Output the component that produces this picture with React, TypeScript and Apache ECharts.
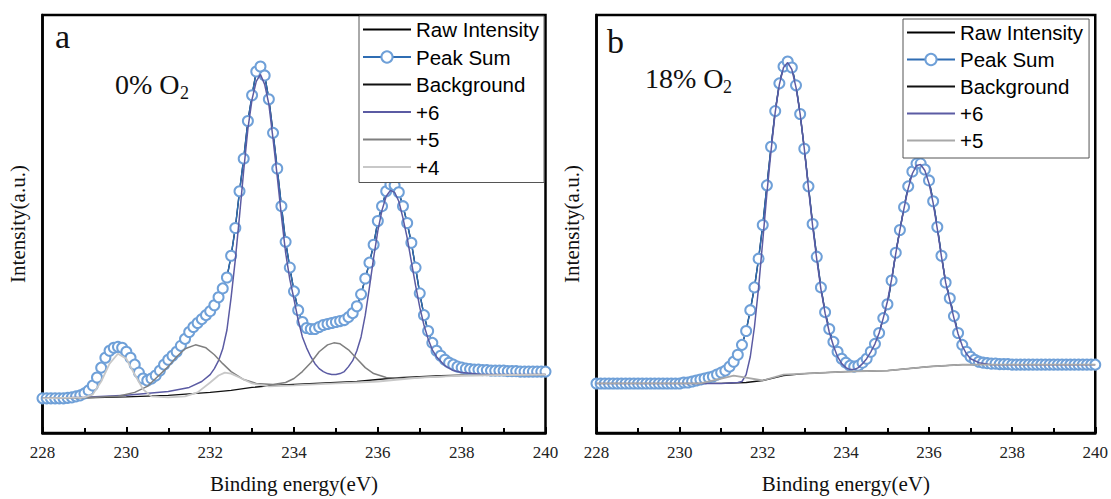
import React, { useEffect, useRef } from "react";
import * as echarts from "echarts";

// ---------- data ----------
const energyStart = 228;
const energyStep = 0.1;

// Panel a (0% O2) — peak sum / raw intensity sampled every 0.1 eV from 228 to 240
const peakSumA = [
  38, 38, 38, 38, 38, 38, 38.5, 39, 40, 41,
  43, 46, 51, 59, 69, 79, 86, 89, 90, 89,
  85, 79, 72, 64, 58, 56, 58, 61, 66, 72,
  77, 81, 85, 91, 98, 105, 110, 114, 118, 122,
  126, 132, 140, 149, 160, 182, 210, 247, 280, 318,
  344, 368, 373, 364, 340, 306, 270, 232, 196, 170,
  146, 127, 115, 109, 108, 108, 110, 112, 113, 114,
  115, 116, 117, 120, 124, 131, 143, 159, 175, 193,
  217, 232, 247, 254, 253, 246, 232, 215, 195, 170,
  144, 122, 106, 94, 86, 81, 77, 74, 72, 70,
  69, 68, 67.5, 67, 67, 66.5, 66.5, 66, 66, 66,
  66, 65.5, 65.5, 65.5, 65, 65, 65, 65, 65, 65,
  65,
];
const rawA = peakSumA;

const backgroundA = [
  [228, 38], [229, 38.5], [230, 39.5], [231, 41], [232, 44], [232.5, 46], [233, 49],
  [233.5, 51], [234, 52], [234.5, 53], [235, 54], [235.5, 55], [236, 57], [236.5, 59],
  [237, 60], [237.5, 61], [238, 61.5], [240, 62],
];
const plus6A = [
  [228, 38], [229, 39], [230, 41], [231, 45], [231.5, 49], [231.8, 55], [232.0, 62],
  [232.1, 68], [232.2, 76], [232.3, 88], [232.4, 107], [232.5, 140], [232.6, 178],
  [232.7, 222], [232.8, 268], [232.9, 310], [233.0, 340], [233.1, 358], [233.2, 365],
  [233.3, 355], [233.4, 335], [233.5, 300], [233.6, 262], [233.7, 222], [233.8, 185],
  [233.9, 158], [234.0, 138], [234.1, 117], [234.2, 100], [234.3, 89], [234.4, 80],
  [234.5, 73], [234.6, 68], [234.7, 65], [234.8, 63], [234.9, 62], [235.0, 62],
  [235.1, 63], [235.2, 65], [235.3, 70], [235.4, 76], [235.5, 86], [235.6, 100],
  [235.7, 122], [235.8, 150], [235.9, 180], [236.0, 207], [236.1, 228], [236.2, 242],
  [236.3, 248], [236.4, 246], [236.5, 237], [236.6, 220], [236.7, 200], [236.8, 176],
  [236.9, 152], [237.0, 130], [237.1, 112], [237.2, 98], [237.3, 87], [237.4, 80],
  [237.6, 71], [237.8, 66], [238.0, 64], [238.5, 62], [240, 62],
];
const plus5A = [
  [228, 38], [229, 38.5], [229.8, 40], [230.2, 44], [230.5, 50], [230.8, 62], [231.0, 70],
  [231.2, 80], [231.4, 88], [231.65, 92], [231.9, 89], [232.1, 82], [232.3, 73],
  [232.5, 65], [232.8, 57], [233.1, 53], [233.5, 52], [233.8, 54], [234.0, 58],
  [234.2, 65], [234.4, 74], [234.6, 85], [234.8, 92], [234.95, 94], [235.1, 93],
  [235.3, 87], [235.5, 78], [235.7, 69], [235.9, 63], [236.2, 59], [236.6, 58],
  [237, 59], [238, 61], [240, 62],
];
const plus4A = [
  [228, 38], [229, 39], [229.2, 42], [229.4, 55], [229.6, 73], [229.8, 83], [230.0, 78],
  [230.2, 62], [230.4, 47], [230.6, 40], [231.0, 39], [231.4, 40], [231.7, 44],
  [232.0, 54], [232.2, 61], [232.35, 64], [232.5, 63], [232.7, 59], [233.0, 53],
  [233.4, 50], [234, 51], [234.5, 52], [235, 53], [235.5, 54], [236, 55], [236.5, 57],
  [237, 59], [238, 61], [240, 62],
];

// Panel b (18% O2)
const peakSumB = [
  53, 53, 53, 53, 53, 53, 53, 53, 53, 53,
  53, 53, 53, 53, 53, 53, 53, 53, 53, 53,
  53, 54, 54, 55, 56, 57, 58, 59, 60, 62,
  64, 66, 70, 75, 82, 92, 106, 127, 150, 179,
  213, 253, 292, 328, 356, 373, 378, 372, 354, 325,
  290, 252, 214, 181, 150, 125, 108, 95, 85, 78,
  74, 71, 70, 71, 74, 78, 85, 93, 104, 119,
  133, 157, 185, 208, 231, 252, 267, 275, 275, 269,
  258, 237, 211, 182, 155, 139, 121, 104, 92, 85,
  80, 77, 75, 74, 73.5, 73, 73, 72.5, 72.5, 72.5,
  72, 72, 72, 72, 72, 72, 72, 72, 72, 72,
  72, 72, 72, 72, 72, 72, 72, 72, 72, 72,
  72,
];
const rawB = peakSumB;

const backgroundB = [
  [228, 53], [231, 53], [231.6, 54], [232.0, 56], [232.5, 61], [233, 63], [234, 65],
  [235, 66], [235.5, 68], [236, 70], [236.8, 72], [240, 72],
];
const plus6B = [
  [228, 53], [230, 53], [231, 53], [231.4, 54], [231.5, 55], [231.6, 62], [231.7, 80],
  [231.8, 110], [231.9, 150], [232.0, 197], [232.1, 245], [232.2, 288], [232.3, 327],
  [232.4, 355], [232.5, 372], [232.6, 377], [232.7, 370], [232.8, 352], [232.9, 325],
  [233.0, 290], [233.1, 250], [233.2, 212], [233.3, 178], [233.4, 148], [233.5, 124],
  [233.6, 105], [233.7, 91], [233.8, 80], [233.9, 73], [234.0, 69], [234.1, 67],
  [234.2, 67], [234.3, 69], [234.4, 73], [234.5, 78], [234.6, 85], [234.7, 93],
  [234.8, 104], [234.9, 119], [235.0, 136], [235.1, 158], [235.2, 184], [235.3, 208],
  [235.4, 230], [235.5, 250], [235.6, 265], [235.7, 273], [235.8, 274], [235.9, 268],
  [236.0, 255], [236.1, 235], [236.2, 209], [236.3, 181], [236.4, 155], [236.5, 137],
  [236.6, 119], [236.7, 103], [236.8, 91], [236.9, 83], [237.0, 78], [237.2, 74],
  [237.5, 72], [240, 72],
];
const plus5B = [
  [228, 53], [230.5, 53], [231.0, 58], [231.3, 61], [231.6, 59], [232.0, 56], [232.5, 62],
  [233.0, 63], [234.0, 65], [235.0, 66], [235.5, 68], [236.0, 70], [236.8, 72],
  [238, 72], [240, 72],
];

const xTicks = { min: 228, max: 240, interval: 2 };
const legendA = ["Raw Intensity", "Peak Sum", "Background", "+6", "+5", "+4"];
const legendB = ["Raw Intensity", "Peak Sum", "Background", "+6", "+5"];
const panelLabels = ["a", "b"];
const conditionLabels = ["0% O", "18% O"];

// ---------- styles ----------
const SERIF = "Liberation Serif";
const SANS = "Liberation Sans";
const C_RAW = "#000000";
const C_SUM = "#2f6db3";
const C_CIRCLE = "#6fa0d8";
const C_BG = "#111111";
const C_P6 = "#5b5ba3";
const C_P5A = "#7f7f7f";
const C_P5B = "#a8a8a8";
const C_P4 = "#c8c8c8";

const withEnergy = (vals: number[]) =>
  vals.map((v, i) => [Number((energyStart + i * energyStep).toFixed(1)), v]);

export default function App() {
  const ref = useRef<HTMLDivElement>(null);

  useEffect(() => {
    if (!ref.current) return;
    const chart = echarts.init(ref.current, undefined, { renderer: "svg" });

    const grids = [
      { left: 42.5, top: 15, width: 503, height: 422 },
      { left: 596.5, top: 15, width: 502.5, height: 422 },
    ].map((g) => ({
      ...g,
      show: true,
      borderColor: "#000",
      borderWidth: 2.5,
      backgroundColor: "transparent",
    }));

    const xAxis = [0, 1].map((i) => ({
      type: "value",
      gridIndex: i,
      min: xTicks.min,
      max: xTicks.max,
      interval: xTicks.interval,
      name: "Binding energy(eV)",
      nameLocation: "middle",
      nameGap: 40,
      nameTextStyle: { fontFamily: SERIF, fontSize: 21, color: "#111" },
      axisLine: { show: true, lineStyle: { color: "#000", width: 2.5 } },
      axisTick: { show: true, inside: true, length: 6, lineStyle: { color: "#000", width: 2 } },
      minorTick: { show: true, splitNumber: 2, length: 5, lineStyle: { color: "#000", width: 2 } },
      axisLabel: { fontFamily: SERIF, fontSize: 17, color: "#222", margin: 11 },
      splitLine: { show: false },
    }));

    const yAxis = [0, 1].map((i) => ({
      type: "value",
      gridIndex: i,
      min: 3,
      max: 425,
      name: "Intensity(a.u.)",
      nameLocation: "middle",
      nameGap: 14,
      nameTextStyle: { fontFamily: SERIF, fontSize: 21, color: "#111" },
      axisLine: { show: true, lineStyle: { color: "#000", width: 2.5 } },
      axisTick: { show: false },
      axisLabel: { show: false },
      splitLine: { show: false },
    }));

    const line = (name: string, data: any, idx: number, color: string, width: number, z: number) => ({
      name,
      type: "line",
      xAxisIndex: idx,
      yAxisIndex: idx,
      data,
      symbol: "none",
      smooth: false,
      lineStyle: { color, width },
      itemStyle: { color },
      z,
    });
    const sum = (data: any, idx: number) => ({
      name: "Peak Sum",
      type: "line",
      xAxisIndex: idx,
      yAxisIndex: idx,
      data,
      symbol: "emptyCircle",
      symbolSize: 10,
      showAllSymbol: true,
      lineStyle: { color: C_SUM, width: 1.5 },
      itemStyle: { color: C_CIRCLE, borderWidth: 1 },
      z: 3,
    });

    const series = [
      line("Raw Intensity", withEnergy(rawA), 0, C_RAW, 1.3, 2),
      sum(withEnergy(peakSumA), 0),
      line("Background", backgroundA, 0, C_BG, 1.3, 2),
      line("+6", plus6A, 0, C_P6, 1.5, 4),
      line("+5", plus5A, 0, C_P5A, 1.5, 4),
      line("+4", plus4A, 0, C_P4, 1.8, 4),
      line("Raw Intensity", withEnergy(rawB), 1, C_RAW, 1.3, 2),
      sum(withEnergy(peakSumB), 1),
      line("Background", backgroundB, 1, C_BG, 1.3, 2),
      line("+6", plus6B, 1, C_P6, 1.5, 4),
      line("+5", plus5B, 1, C_P5B, 1.8, 4),
    ];

    const legendItem = (n: string, p5color: string) => {
      if (n === "Peak Sum") {
        return { name: n, itemStyle: { color: C_CIRCLE, borderColor: C_CIRCLE, borderWidth: 1.2 } };
      }
      const item: any = { name: n, itemStyle: { opacity: 0 } };
      if (n === "+5") item.lineStyle = { color: p5color };
      return item;
    };

    const legendCommon = {
      orient: "vertical",
      backgroundColor: "#fff",
      borderColor: "#555",
      borderWidth: 1,
      borderRadius: 0,
      itemWidth: 48,
      itemHeight: 14,
      itemGap: 6.5,
      textStyle: { fontFamily: SANS, fontSize: 20.5, color: "#000" },
      selectedMode: false,
      z: 10,
    };

    const legends = [
      {
        ...legendCommon,
        left: 359,
        top: 16,
        padding: [3, 5, 5, 3],
        data: legendA.map((n) => legendItem(n, C_P5A)),
      },
      {
        ...legendCommon,
        left: 903,
        top: 19,
        itemGap: 6,
        padding: [3, 6, 7, 3],
        data: legendB.map((n) => legendItem(n, C_P5B)),
      },
    ];

    const graphic = [
      { type: "text", left: 55, top: 19, style: { text: panelLabels[0], font: `34px ${SERIF}`, fill: "#111" }, z: 20 },
      { type: "text", left: 607, top: 24, style: { text: panelLabels[1], font: `34px ${SERIF}`, fill: "#111" }, z: 20 },
      { type: "text", left: 115, top: 70, style: { text: conditionLabels[0], font: `28px ${SERIF}`, fill: "#111" }, z: 20 },
      { type: "text", left: 180, top: 84, style: { text: "2", font: `18px ${SERIF}`, fill: "#111" }, z: 20 },
      { type: "text", left: 645, top: 64, style: { text: conditionLabels[1], font: `28px ${SERIF}`, fill: "#111" }, z: 20 },
      { type: "text", left: 723, top: 78, style: { text: "2", font: `18px ${SERIF}`, fill: "#111" }, z: 20 },
    ];

    chart.setOption({
      animation: false,
      backgroundColor: "#fff",
      grid: grids,
      xAxis,
      yAxis,
      legend: legends,
      series,
      graphic,
    });

    return () => chart.dispose();
  }, []);

  return (
    <div
      ref={ref}
      style={{ position: "absolute", left: 0, top: 0, width: 1111, height: 499 }}
    />
  );
}
